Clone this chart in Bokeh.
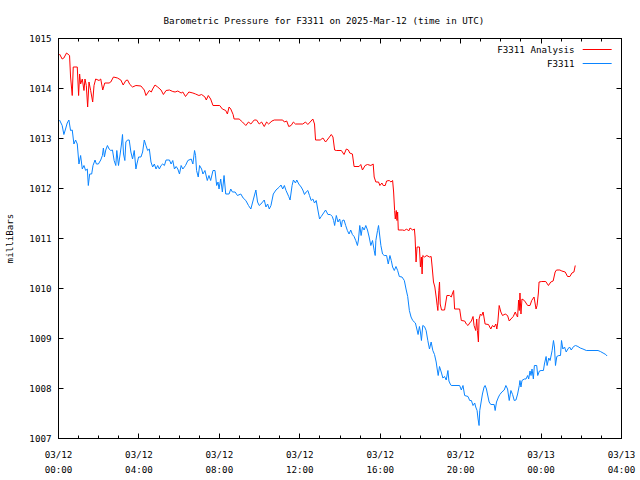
import numpy as np
from bokeh.plotting import figure
from bokeh.models import LinearAxis, FixedTicker, Range1d, Label, Arrow
from bokeh.embed import file_html
from bokeh.resources import INLINE

# ---------------- data (minutes after 2025-03-12 00:00 UTC, millibars) ----------------
analysis_minutes = [
    3, 11, 16, 24, 33, 36, 41, 44, 56, 60,
    63, 66, 71, 76, 79, 83, 87, 91, 96, 102,
    106, 111, 121, 126, 132, 138, 151, 156, 164, 176,
    186, 193, 201, 206, 213, 221, 231, 246, 256, 261,
    271, 277, 281, 288, 296, 306, 313, 321, 331, 341,
    348, 356, 366, 371, 379, 389, 401,
    409, 419, 427, 437, 441, 447, 454, 461, 481, 489,
    499, 504, 509, 514, 521, 524, 539, 549, 559, 567,
    574, 584, 591, 599, 606, 614, 621, 627, 637, 644,
    669, 674, 681, 687, 694, 701, 707, 729, 737, 744,
    751, 759, 764, 767, 781, 789, 797, 804, 814, 819,
    824, 829, 844,
    852, 859, 865, 869, 877, 882, 897, 902, 907, 915,
    922, 932, 939, 942, 947, 955, 959, 965, 969, 975,
    979, 987, 992, 997, 1000, 1003, 1005, 1008, 1010, 1012,
    1014, 1027, 1032, 1039, 1045, 1049, 1057, 1062, 1064, 1067,
    1070, 1077, 1080, 1083, 1085, 1087, 1092, 1099, 1107, 1112,
    1115, 1119, 1123, 1127, 1130, 1132, 1135, 1137, 1139, 1143,
    1152, 1159, 1167, 1172, 1175, 1179, 1182, 1197, 1202, 1212,
    1217, 1222, 1227, 1232, 1237, 1240,
    1245, 1248, 1250, 1253, 1255, 1259, 1263, 1267, 1273, 1283,
    1290, 1295, 1300, 1305, 1308, 1311, 1315, 1320, 1325, 1333,
    1340, 1345, 1350, 1357, 1363, 1367, 1370, 1373, 1375, 1377,
    1380, 1383, 1390, 1395, 1400, 1407, 1412, 1419, 1422, 1425,
    1428, 1432, 1434, 1442, 1454, 1462, 1469, 1476, 1482, 1486,
    1496, 1502, 1512, 1519, 1526, 1532, 1538, 1542,
]
analysis_mbar = [
    1014.69, 1014.59, 1014.61, 1014.71, 1014.66, 1014.23, 1013.86, 1014.43, 1014.43, 1013.86,
    1014.29, 1014.09, 1014.19, 1013.96, 1014.19, 1014.06, 1013.63, 1014.13, 1013.96, 1013.73,
    1014.06, 1014.19, 1014.16, 1014.19, 1013.97, 1014.11, 1014.11, 1014.13, 1014.23, 1014.21,
    1014.17, 1014.07, 1014.16, 1014.17, 1014.08, 1014.03, 1014.06, 1014.05, 1013.97, 1013.86,
    1013.96, 1013.93, 1013.99, 1014.07, 1014.03, 1013.97, 1013.88, 1013.96, 1013.97, 1013.94,
    1013.93, 1013.95, 1013.91, 1013.93, 1013.84, 1013.93, 1013.91,
    1013.89, 1013.86, 1013.88, 1013.83, 1013.77, 1013.86, 1013.79, 1013.66, 1013.66, 1013.59,
    1013.56, 1013.49, 1013.63, 1013.59, 1013.48, 1013.39, 1013.39, 1013.33, 1013.26, 1013.33,
    1013.29, 1013.37, 1013.37, 1013.29, 1013.33, 1013.24, 1013.33, 1013.29, 1013.35, 1013.37,
    1013.37, 1013.33, 1013.35, 1013.24, 1013.26, 1013.33, 1013.29, 1013.29, 1013.33, 1013.28,
    1013.33, 1013.39, 1013.29, 1012.97, 1012.97, 1013.01, 1012.93, 1012.99, 1013.08, 1013.03,
    1012.77, 1012.76, 1012.76,
    1012.68, 1012.79, 1012.77, 1012.71, 1012.69, 1012.44, 1012.44, 1012.48, 1012.37, 1012.46,
    1012.48, 1012.46, 1012.49, 1012.23, 1012.13, 1012.13, 1012.06, 1012.11, 1012.06, 1012.06,
    1012.15, 1012.16, 1012.13, 1012.16, 1011.93, 1011.56, 1011.39, 1011.56, 1011.36, 1011.53,
    1011.17, 1011.17, 1011.16, 1011.19, 1011.15, 1011.21, 1011.17, 1011.19, 1011.03, 1010.53,
    1010.83, 1010.83, 1010.43, 1010.63, 1010.29, 1010.66, 1010.63, 1010.66, 1010.63, 1010.64,
    1010.43, 1010.13, 1010.03, 1009.83, 1009.66, 1009.56, 1009.96, 1010.13, 1009.69, 1009.57,
    1009.57, 1009.86, 1009.86, 1009.83, 1009.89, 1009.96, 1009.59, 1009.59, 1009.36, 1009.35,
    1009.29, 1009.26, 1009.31, 1009.35, 1009.44, 1009.26,
    1009.16, 1009.39, 1009.16, 1008.93, 1009.39, 1009.49, 1009.46, 1009.53, 1009.29, 1009.28,
    1009.19, 1009.26, 1009.23, 1009.29, 1009.19, 1009.33, 1009.66, 1009.53, 1009.46, 1009.49,
    1009.46, 1009.35, 1009.39, 1009.44, 1009.53, 1009.46, 1009.43, 1009.77, 1009.56, 1009.91,
    1009.49, 1009.79, 1009.76, 1009.71, 1009.66, 1009.66, 1009.76, 1009.83, 1009.71, 1009.59,
    1009.66, 1009.91, 1010.13, 1010.14, 1010.14, 1010.06, 1010.13, 1010.15, 1010.33, 1010.37,
    1010.37, 1010.35, 1010.33, 1010.24, 1010.24, 1010.31, 1010.33, 1010.46,
]

station_minutes = [
    3, 11, 16, 21, 26, 31, 36, 41, 46, 51,
    56, 61, 66, 71, 76, 81, 86, 89, 93, 99,
    103, 109, 113, 119, 126, 131, 134, 137, 141, 146,
    151, 156, 161, 166, 171, 174, 179, 184, 188, 191,
    194, 198, 201, 206, 211, 216, 221, 226, 231, 234,
    239, 246, 251, 256, 261, 266, 271, 276, 281, 286,
    291, 296, 301, 306, 311, 316, 321, 331, 336, 341,
    346, 351, 356, 361, 366, 371, 379, 386, 396, 401,
    406,
    409, 412, 417, 421, 427, 431, 437, 444, 449, 454,
    461, 467, 472, 476, 479, 484, 489, 494, 499, 509,
    514, 519, 527, 534, 544, 551, 559, 567, 574, 581,
    589, 594, 599, 604, 614, 619, 624, 629, 634, 641,
    649, 659, 664, 669, 674, 679, 687, 691, 697, 701,
    707, 711, 717, 724, 729, 734, 739, 744, 749, 754,
    759, 764, 769, 774, 779, 784, 791, 797, 804, 811,
    817, 821, 824, 829, 834, 839, 844,
    847, 852, 857, 862, 867, 872, 877, 882, 887, 892,
    895, 899, 903, 907, 912, 917, 922, 927, 932, 937,
    942, 945, 947, 952, 955, 959, 962, 967, 972, 979,
    984, 989, 993, 997, 1002, 1007, 1012, 1017, 1025, 1032,
    1037, 1042, 1047, 1052, 1057, 1065, 1070, 1073, 1077, 1080,
    1083, 1087, 1092, 1097, 1102, 1107, 1112, 1117, 1122, 1127,
    1130, 1133, 1137, 1142, 1147, 1152, 1157, 1162, 1165, 1169,
    1172, 1197, 1202, 1207, 1212, 1222, 1227, 1232, 1237, 1242,
    1245, 1249, 1252, 1255, 1257,
    1265, 1270, 1273, 1277, 1280, 1285, 1290, 1300, 1303, 1307,
    1313, 1317, 1323, 1330, 1335, 1340, 1345, 1350, 1355, 1360,
    1365, 1370, 1375, 1377, 1380, 1383, 1390, 1395, 1400, 1403,
    1407, 1410, 1413, 1417, 1420, 1427, 1430, 1435, 1440, 1447,
    1450, 1455, 1458, 1463, 1467, 1473, 1477, 1480, 1483, 1487,
    1493, 1498, 1501, 1505, 1510, 1515, 1520, 1525, 1530, 1537,
    1543, 1550, 1557, 1565, 1575, 1610, 1617, 1625, 1633, 1637,
]
station_mbar = [
    1013.37, 1013.26, 1013.08, 1013.19, 1013.31, 1013.37, 1013.16, 1013.17, 1012.89, 1012.97,
    1012.89, 1012.49, 1012.66, 1012.39, 1012.46, 1012.36, 1012.39, 1012.06, 1012.29, 1012.29,
    1012.46, 1012.57, 1012.49, 1012.49, 1012.57, 1012.66, 1012.81, 1012.63, 1012.77, 1012.86,
    1012.79, 1012.76, 1012.77, 1012.56, 1012.46, 1012.76, 1012.46, 1012.69, 1012.89, 1013.08,
    1012.69, 1012.56, 1012.93, 1012.97, 1012.97, 1012.73, 1012.59, 1012.76, 1012.39, 1012.49,
    1012.63, 1012.63, 1012.73, 1012.97, 1012.86, 1012.76, 1012.79, 1012.53, 1012.43, 1012.49,
    1012.39, 1012.46, 1012.39, 1012.46, 1012.49, 1012.46, 1012.57, 1012.57, 1012.49, 1012.56,
    1012.39, 1012.44, 1012.39, 1012.29, 1012.46, 1012.39, 1012.46, 1012.56, 1012.59, 1012.49,
    1012.76,
    1012.66, 1012.36, 1012.23, 1012.46, 1012.39, 1012.29, 1012.36, 1012.16, 1012.26, 1012.16,
    1012.36, 1012.36, 1012.06, 1012.13, 1011.99, 1012.19, 1011.93, 1012.26, 1011.89, 1011.89,
    1011.99, 1011.93, 1011.93, 1011.86, 1011.89, 1011.81, 1011.76, 1011.66, 1011.59, 1011.77,
    1011.97, 1011.73, 1011.66, 1011.69, 1011.77, 1011.63, 1011.69, 1011.59, 1011.66, 1011.89,
    1011.97, 1012.03, 1012.07, 1011.99, 1012.06, 1011.96, 1011.84, 1011.77, 1012.06, 1012.17,
    1012.11, 1012.17, 1012.09, 1012.03, 1011.97, 1011.88, 1011.93, 1011.96, 1011.86, 1011.76,
    1011.79, 1011.71, 1011.76, 1011.57, 1011.39, 1011.44, 1011.51, 1011.57, 1011.48, 1011.48,
    1011.44, 1011.36, 1011.26, 1011.46, 1011.33, 1011.39, 1011.23,
    1011.36, 1011.37, 1011.26, 1011.16, 1011.09, 1011.17, 1011.08, 1011.04, 1010.96, 1010.86,
    1010.97, 1011.26, 1011.06, 1011.23, 1011.17, 1011.26, 1011.17, 1011.03, 1010.86, 1010.96,
    1010.76, 1010.66, 1010.96, 1011.16, 1011.26, 1011.03, 1010.86, 1010.69, 1010.66, 1010.66,
    1010.49, 1010.66, 1010.56, 1010.43, 1010.36, 1010.44, 1010.36, 1010.24, 1010.23, 1010.16,
    1009.99, 1009.84, 1009.56, 1009.43, 1009.36, 1009.31, 1009.17, 1009.08, 1009.24, 1009.13,
    1008.96, 1009.26, 1009.24, 1009.16, 1008.96, 1008.79, 1008.93, 1008.76, 1008.68, 1008.53,
    1008.39, 1008.26, 1008.44, 1008.33, 1008.21, 1008.24, 1008.17, 1008.36, 1008.15, 1008.09,
    1008.06, 1008.06, 1007.97, 1008.06, 1007.86, 1007.84, 1007.76, 1007.76, 1007.66, 1007.71,
    1007.63, 1007.56, 1007.39, 1007.26, 1007.56,
    1007.89, 1008.03, 1008.06, 1007.99, 1007.89, 1007.73, 1007.68, 1007.68, 1007.56, 1007.73,
    1007.83, 1007.88, 1007.93, 1007.97, 1008.06, 1007.99, 1007.76, 1007.96, 1007.88, 1007.76,
    1007.77, 1007.89, 1008.06, 1008.16, 1008.03, 1008.16, 1008.19, 1008.19, 1008.26, 1008.19,
    1008.35, 1008.26, 1008.39, 1008.19, 1008.46, 1008.46, 1008.26, 1008.35, 1008.36, 1008.36,
    1008.49, 1008.64, 1008.46, 1008.61, 1008.56, 1008.76, 1008.96, 1008.83, 1008.46, 1008.64,
    1008.66, 1008.66, 1008.96, 1008.79, 1008.83, 1008.73, 1008.79, 1008.83, 1008.77, 1008.84,
    1008.86, 1008.84, 1008.81, 1008.79, 1008.76, 1008.76, 1008.74, 1008.71, 1008.68, 1008.65,
]

tick_hours = [0, 4, 8, 12, 16, 20, 24, 28]
tick_labels = ["03/12\n00:00", "03/12\n04:00", "03/12\n08:00", "03/12\n12:00",
               "03/12\n16:00", "03/12\n20:00", "03/13\n00:00", "03/13\n04:00"]
minor_hours = list(range(0, 29))
y_ticks = [1007, 1008, 1009, 1010, 1011, 1012, 1013, 1014, 1015]

series_names = ["F3311 Analysis", "F3311"]
series_colors = ["#ff0000", "#0a84ff"]

FONT = "DejaVu Sans Mono"
FS = "9.2px"

# ---------------- figure ----------------
p = figure(width=640, height=480, output_backend="svg", toolbar_location=None,
           x_range=Range1d(0, 28), y_range=Range1d(1007, 1015),
           title="Barometric Pressure for F3311 on 2025-Mar-12 (time in UTC)",
           min_border_left=58, min_border_right=19, min_border_top=38, min_border_bottom=42)
p.background_fill_color = "white"
p.border_fill_color = "white"
p.outline_line_color = "black"
p.outline_line_width = 1
p.xgrid.visible = False
p.ygrid.visible = False

p.title.text_font = FONT
p.title.text_font_size = FS
p.title.text_font_style = "normal"
p.title.text_color = "black"
p.title.align = "left"
p.title.offset = 105
p.title.standoff = 25

def style_axis(ax, show_labels, ticks=None):
    ax.axis_line_color = "black"
    ax.major_tick_line_color = "black"
    ax.minor_tick_line_color = "black"
    ax.major_tick_in = 5
    ax.major_tick_out = 0
    ax.minor_tick_in = 3
    ax.minor_tick_out = 0
    ax.major_label_text_font = FONT
    ax.major_label_text_color = "black"
    ax.major_label_text_font_size = FS
    if not show_labels:
        ax.major_label_overrides = {t: "" for t in ticks}
        ax.major_label_standoff = 0

xt = FixedTicker(ticks=tick_hours, minor_ticks=minor_hours)
yt = FixedTicker(ticks=y_ticks, minor_ticks=[])

bottom = p.below[0]
bottom.ticker = xt
bottom.major_label_overrides = {h: lab for h, lab in zip(tick_hours, tick_labels)}
style_axis(bottom, True)
bottom.major_label_standoff = 10
bottom.major_label_text_line_height = 1.4

left = p.left[0]
left.ticker = yt
style_axis(left, True)
left.major_label_standoff = 7
left.axis_label = "milliBars"
left.axis_label_text_font = FONT
left.axis_label_text_font_size = FS
left.axis_label_text_font_style = "normal"
left.axis_label_text_color = "black"
left.axis_label_standoff = 11

top = LinearAxis(ticker=FixedTicker(ticks=tick_hours, minor_ticks=minor_hours))
style_axis(top, False, tick_hours)
p.add_layout(top, "above")
right = LinearAxis(ticker=FixedTicker(ticks=y_ticks, minor_ticks=[]))
style_axis(right, False, y_ticks)
p.add_layout(right, "right")

# ---------------- series ----------------
ax_h = np.array(analysis_minutes) / 60.0
st_h = np.array(station_minutes) / 60.0
p.line(ax_h, analysis_mbar, line_color=series_colors[0], line_width=1)
p.line(st_h, station_mbar, line_color=series_colors[1], line_width=1)

# ---------------- gnuplot-style key (text left of sample line) ----------------
key_text_x = 25.67
key_line_x0, key_line_x1 = 26.07, 27.51
key_rows_y = [1014.78, 1014.50]
for name, col, ky in zip(series_names, series_colors, key_rows_y):
    p.add_layout(Label(x=key_text_x, y=ky, text=name, text_align="right",
                       text_baseline="middle", text_font=FONT, text_font_size=FS,
                       text_color="black"))
    p.add_layout(Arrow(x_start=key_line_x0, y_start=ky, x_end=key_line_x1, y_end=ky,
                       end=None, line_color=col, line_width=1))

open("out.html", "w").write(file_html(p, INLINE))
